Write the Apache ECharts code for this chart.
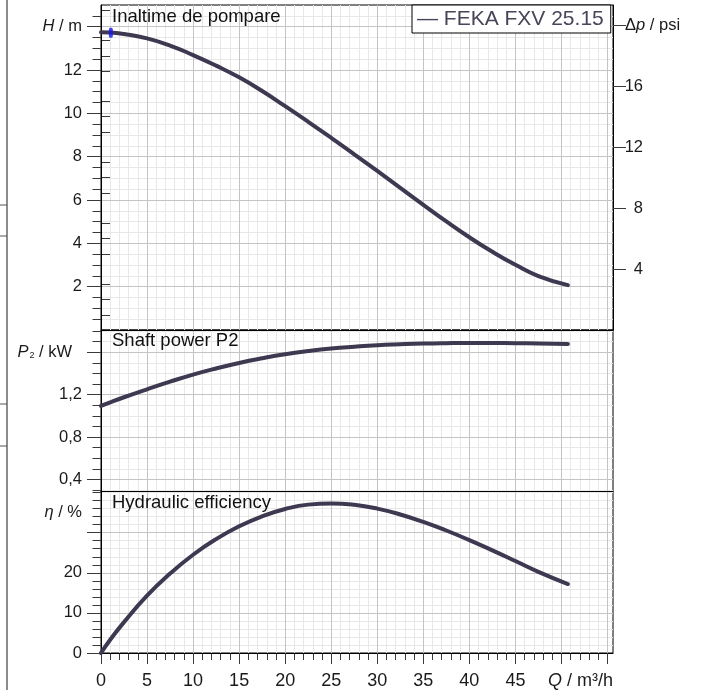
<!DOCTYPE html>
<html><head><meta charset="utf-8">
<script src="https://cdn.jsdelivr.net/npm/echarts@6/dist/echarts.min.js"></script>
<style>html,body{margin:0;padding:0;background:#fff}#c{width:704px;height:690px}</style>
</head><body><div id="c"></div>
<script>
// ---- data ----
const flowQ   = [0, 1, 2.5, 5, 7.5, 10, 12.5, 15, 17.5, 20, 22.5, 25, 27.5, 30, 32.5, 35, 37.5, 40, 42.5, 45, 47.5, 50.7];
const headH   = [13.74, 13.73, 13.66, 13.46, 13.13, 12.69, 12.2, 11.66, 11.03, 10.33, 9.61, 8.87, 8.11, 7.34, 6.56, 5.78, 5.01, 4.28, 3.61, 3.01, 2.49, 2.07];
const powerP2 = [1.093, 1.127, 1.175, 1.25, 1.322, 1.389, 1.447, 1.499, 1.543, 1.581, 1.611, 1.635, 1.652, 1.666, 1.675, 1.682, 1.686, 1.688, 1.687, 1.685, 1.683, 1.679];
const effEta  = [0, 3.3, 7.7, 14.3, 19.8, 24.5, 28.4, 31.6, 34.1, 35.9, 37.0, 37.3, 36.95, 36.0, 34.55, 32.7, 30.55, 28.15, 25.6, 22.95, 20.25, 17.2];
const markerQ = [1.07];
const markerH = [13.72];
const seriesName = 'FEKA FXV 25.15';
const panelTitles = ['Inaltime de pompare', 'Shaft power P2', 'Hydraulic efficiency'];

// tick / label values
const xMajorTicks = [0, 5, 10, 15, 20, 25, 30, 35, 40, 45, 50, 55];
const xTickLabels = [0, 5, 10, 15, 20, 25, 30, 35, 40, 45];
const hMajorTicks = [2, 4, 6, 8, 10, 12, 14];
const hTickLabels = [2, 4, 6, 8, 10, 12, 14];
const psiMajorTicks = [4, 8, 12, 16, 20];
const psiTickLabels = [4, 8, 12, 16, 20];
const pMajorTicks = [0.4, 0.8, 1.2, 1.6];
const pTickLabels = [0.4, 0.8, 1.2, 1.6];
const etaMajorTicks = [0, 10, 20, 30];
const etaTickLabels = [0, 10, 20, 35];

function steps(a, b, st, exclude) {
  const r = [];
  for (let i = 0; a + i * st <= b + 1e-9; i++) {
    const v = Math.round((a + i * st) * 1000) / 1000;
    if (!exclude.some(e => Math.abs(e - v) < 1e-6)) r.push(v);
  }
  return r;
}
const xMinorTicks = steps(0, 55, 1, xMajorTicks);
const hMinorTicks = steps(0.5, 14.5, 0.5, hMajorTicks);
const psiMinorTicks = steps(1, 21, 1, psiMajorTicks);
const pMinorTicks = steps(0.3, 1.8, 0.1, pMajorTicks);
const etaMinorTicks = steps(2, 40, 2, etaMajorTicks);

const FONT = '"Liberation Sans", Arial, Helvetica, sans-serif';
const curveColor = '#3e3850';
const majorGrid = '#c4c4c4', minorGrid = '#e8e8e8';
const tickColor = '#3a3a3a';
const labelColor = '#1a1a1a';
const Q_MAX = 55.6;
const H_MAX = 15;
const PSI_MAX = H_MAX / 0.70307;

const grids = [
  {left: 101, right: 91, top: 5, height: 325},
  {left: 101, right: 91, top: 330, height: 161},
  {left: 101, right: 91, top: 491, height: 162}
].map(g => Object.assign(g, {show: true, borderColor: '#000', borderWidth: 1, backgroundColor: 'transparent', containLabel: false, outerBoundsMode: 'none'}));

const xAxes = [];
for (let g = 0; g < 3; g++) {
  const bottom = g === 2;
  xAxes.push({
    type: 'value', gridIndex: g, min: 0, max: Q_MAX, position: 'bottom', z: 0,
    axisLine: {show: false},
    axisTick: {show: bottom, customValues: xMinorTicks, length: 7, lineStyle: {color: tickColor, width: 1}},
    axisLabel: {show: false},
    splitLine: {show: true, lineStyle: {color: minorGrid, width: 1}}
  });
  const major = {
    type: 'value', gridIndex: g, min: 0, max: Q_MAX, position: 'bottom', z: 1,
    axisLine: {show: true, onZero: false, lineStyle: {color: '#000', width: 1}},
    axisTick: {show: bottom, customValues: xMajorTicks, length: 11, lineStyle: {color: tickColor, width: 1}},
    axisLabel: {show: bottom, customValues: xTickLabels, margin: 19, fontSize: 18, color: labelColor, fontFamily: FONT},
    splitLine: {show: true, lineStyle: {color: majorGrid, width: 1}}
  };
  if (bottom) {
    Object.assign(major, {
      name: '{i|Q}{n| / m³/h}', nameLocation: 'end', nameGap: 0, nameMoveOverlap: false,
      nameTextStyle: {align: 'right', verticalAlign: 'top', padding: [19, 0, 0, 0], fontFamily: FONT, fontSize: 18, color: labelColor,
        rich: {i: {fontStyle: 'italic', fontSize: 18, fontFamily: FONT, color: labelColor}, n: {fontSize: 18, fontFamily: FONT, color: labelColor}}}
    });
  }
  xAxes.push(major);
}

const richBase = {
  i: {fontStyle: 'italic', fontSize: 16.5, fontFamily: FONT, color: labelColor},
  n: {fontSize: 16.5, fontFamily: FONT, color: labelColor},
  s: {fontSize: 9, fontFamily: FONT, color: labelColor, padding: [7, 0, 0, 1]},
  sp: {width: 10},
  w: {width: 18, align: 'right', fontSize: 16.5, fontFamily: FONT, color: labelColor}
};

function yPair(g, min, max, pos, minorTicks, majorTicks, labels, fmt, opts) {
  opts = opts || {};
  const minor = {
    type: 'value', gridIndex: g, min, max, position: pos, z: 0,
    axisLine: {show: false},
    axisTick: {show: true, customValues: minorTicks, length: opts.minorLen || 8.5, lineStyle: {color: tickColor, width: 1}},
    axisLabel: {show: false},
    splitLine: {show: opts.grid !== false, lineStyle: {color: minorGrid, width: 1}}
  };
  const major = {
    type: 'value', gridIndex: g, min, max, position: pos, z: 1,
    axisLine: {show: true, onZero: false, lineStyle: {color: '#000', width: 1}},
    axisTick: {show: true, customValues: majorTicks, length: opts.majorLen || 14, lineStyle: {color: tickColor, width: 1}},
    axisLabel: {show: true, customValues: labels, formatter: fmt, margin: opts.margin || 19, align: opts.align,
      fontSize: 16.5, color: labelColor, fontFamily: FONT, rich: richBase},
    splitLine: {show: opts.grid !== false, lineStyle: {color: majorGrid, width: 1}}
  };
  return [minor, major];
}

const comma = v => String(Math.round(v * 10) / 10).replace('.', ',');
const yAxes = [].concat(
  yPair(0, 0, H_MAX, 'left', hMinorTicks, hMajorTicks, hTickLabels,
    v => v === 14 ? '{i|H}{n| / m}' : '{n|' + v + '}'),
  yPair(0, 0, PSI_MAX, 'right', psiMinorTicks, psiMajorTicks, psiTickLabels,
    v => v === 20 ? '{n|Δ}{i|p}{n| / psi}' : '{w|' + v + '}',
    {grid: false, margin: 12, align: 'left', minorLen: 9, majorLen: 13}),
  yPair(1, 0.29, 1.81, 'left', pMinorTicks, pMajorTicks, pTickLabels,
    v => Math.abs(v - 1.6) < 1e-6 ? '{i|P}{s|2}{n| / kW}{sp|}' : '{n|' + comma(v) + '}'),
  yPair(2, 0, 40.4, 'left', etaMinorTicks, etaMajorTicks, etaTickLabels,
    v => v === 35 ? '{i|η}{n| / %}' : '{n|' + v + '}')
);

const zipData = (xs, ys) => xs.map((x, k) => [x, ys[k]]);
const lineSeries = (xi, yi, ys) => ({
  name: seriesName, type: 'line', xAxisIndex: xi, yAxisIndex: yi,
  data: zipData(flowQ, ys), smooth: true, showSymbol: false, symbol: 'none', silent: true, z: 5,
  lineStyle: {color: curveColor, width: 4, cap: 'round', join: 'round'},
  itemStyle: {color: curveColor}
});

const option = {
  animation: false,
  backgroundColor: '#fff',
  textStyle: {fontFamily: FONT},
  grid: grids,
  xAxis: xAxes,
  yAxis: yAxes,
  title: [
    {text: panelTitles[0], left: 112, top: 7, padding: 0, textStyle: {fontSize: 18.5, fontWeight: 'normal', color: '#111', fontFamily: FONT}},
    {text: panelTitles[1], left: 112, top: 331, padding: 0, textStyle: {fontSize: 18.5, fontWeight: 'normal', color: '#111', fontFamily: FONT}},
    {text: panelTitles[2], left: 112, top: 493, padding: 0, textStyle: {fontSize: 18.5, fontWeight: 'normal', color: '#111', fontFamily: FONT}}
  ],
  legend: {
    left: 412, top: 5, orient: 'horizontal',
    data: [{name: seriesName, icon: 'none'}],
    itemWidth: 0, itemHeight: 0, itemGap: 0,
    formatter: '— {name}',
    backgroundColor: '#fff', borderColor: '#000', borderWidth: 1,
    padding: [3.5, 7, 3.5, 0],
    selectedMode: false,
    textStyle: {fontSize: 21, color: '#4a4458', fontFamily: FONT}
  },
  graphic: [
    {type: 'line', silent: true, shape: {x1: 7, y1: 0, x2: 7, y2: 690}, style: {stroke: '#8c8c8c', lineWidth: 2}},
    {type: 'line', silent: true, shape: {x1: 0, y1: 205, x2: 7, y2: 205}, style: {stroke: '#555', lineWidth: 1}},
    {type: 'line', silent: true, shape: {x1: 0, y1: 236, x2: 7, y2: 236}, style: {stroke: '#555', lineWidth: 1}},
    {type: 'line', silent: true, shape: {x1: 0, y1: 404, x2: 7, y2: 404}, style: {stroke: '#555', lineWidth: 1}},
    {type: 'line', silent: true, shape: {x1: 0, y1: 446, x2: 7, y2: 446}, style: {stroke: '#555', lineWidth: 1}}
  ],
  series: [
    lineSeries(1, 1, headH),
    lineSeries(3, 5, powerP2),
    lineSeries(5, 7, effEta),
    {name: 'duty', type: 'scatter', xAxisIndex: 1, yAxisIndex: 1, data: zipData(markerQ, markerH),
      symbol: 'roundRect', symbolSize: [4, 10], itemStyle: {color: '#1414f0'}, z: 6, silent: true}
  ]
};
const chart = echarts.init(document.getElementById('c'), null, {renderer: 'canvas'});
chart.setOption(option);
</script>
</body></html>
